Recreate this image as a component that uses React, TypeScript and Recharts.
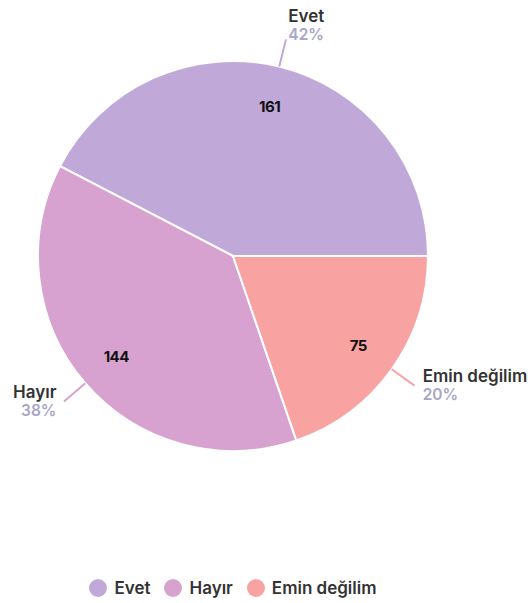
import React from "react";
import { PieChart, Pie, Cell, Legend } from "recharts";

const categories = ["Evet", "Hayır", "Emin değilim"];
const values = [161, 144, 75];
const percentLabels = ["42%", "38%", "20%"];
const colors = ["#C0A9D9", "#D8A2D0", "#F8A3A1"];

const data = categories.map((name, i) => ({ name, value: values[i] }));

const RADIAN = Math.PI / 180;
const FONT = "Inter, 'Open Sans', sans-serif";

const renderLabel = (props: any) => {
  const { cx, cy, midAngle, outerRadius, index, value } = props;
  const cos = Math.cos(-midAngle * RADIAN);
  const sin = Math.sin(-midAngle * RADIAN);
  const ir = outerRadius * 0.79;
  const ix = cx + ir * cos;
  const iy = cy + ir * sin;
  const sx = cx + outerRadius * cos;
  const sy = cy + outerRadius * sin;
  const er = outerRadius + 28;
  const ex = cx + er * cos;
  const ey = cy + er * sin;
  const right = cos >= 0;
  const tx = ex + 10 * cos;
  const up = sin < 0 ? 14 * -sin : 0;
  const ty = ey - up;
  return (
    <g>
      <text x={ix} y={iy} textAnchor="middle" dominantBaseline="central" fill="#111" fontSize={15} fontWeight={700} fontFamily={FONT} letterSpacing={-0.5}>
        {value}
      </text>
      <line x1={sx} y1={sy} x2={ex} y2={ey} stroke={colors[index]} strokeWidth={2} />
      <text x={tx} y={ty - 10} textAnchor={right ? "start" : "end"} dominantBaseline="central" fill="#333" fontSize={17} fontWeight={600} fontFamily={FONT}>
        {categories[index]}
      </text>
      <text x={tx} y={ty + 9} textAnchor={right ? "start" : "end"} dominantBaseline="central" fill="#A6A6C8" fontSize={15.5} fontWeight={600} fontFamily={FONT}>
        {percentLabels[index]}
      </text>
    </g>
  );
};

const renderLegend = () => (
  <div style={{ position: "absolute", left: 0, width: 466, top: 0, height: 20, display: "flex", justifyContent: "center", alignItems: "center", fontFamily: FONT }}>
    {categories.map((c, i) => (
      <div key={c} style={{ display: "flex", alignItems: "center", marginRight: i < categories.length - 1 ? 14 : 0 }}>
        <span style={{ width: 18, height: 18, borderRadius: 9, background: colors[i], display: "inline-block", marginRight: 7 }} />
        <span style={{ fontSize: 17, fontWeight: 600, color: "#333", lineHeight: "20px" }}>{c}</span>
      </div>
    ))}
  </div>
);

export default function App() {
  return (
    <div style={{ position: "absolute", left: 0, top: 0, width: 528, height: 603, background: "#fff" }}>
      <PieChart width={528} height={603} margin={{ top: 0, right: 0, bottom: 0, left: 0 }}>
        <Pie
          data={data}
          dataKey="value"
          nameKey="name"
          cx={233}
          cy={256}
          outerRadius={195}
          startAngle={0}
          endAngle={360}
          stroke="#fff"
          strokeWidth={2}
          label={renderLabel}
          labelLine={false}
          isAnimationActive={false}
        >
          {data.map((d, i) => (
            <Cell key={d.name} fill={colors[i]} />
          ))}
        </Pie>
        <Legend content={renderLegend} wrapperStyle={{ position: "absolute", left: 0, top: 578, width: 528 }} />
      </PieChart>
    </div>
  );
}
